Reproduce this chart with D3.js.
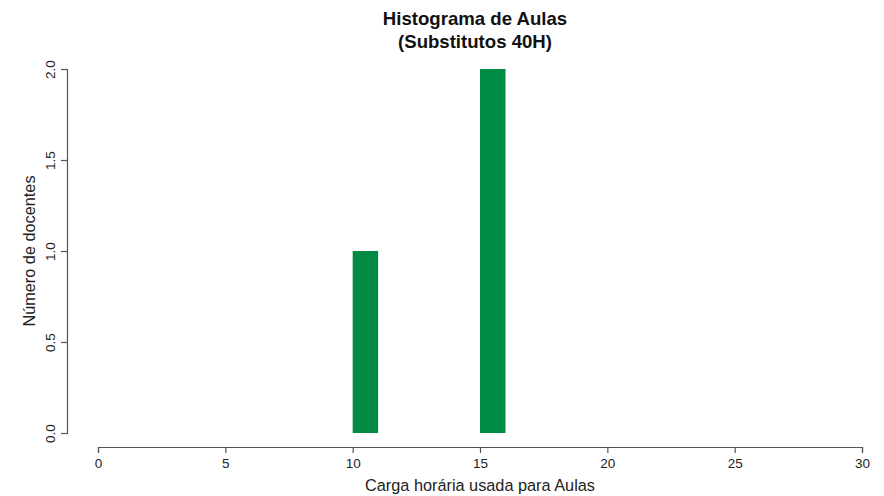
<!DOCTYPE html>
<html><head><meta charset="utf-8">
<script src="https://cdn.jsdelivr.net/npm/d3@7"></script>
<style>body{margin:0;background:#fff}svg{display:block}</style>
</head><body>
<script>
const binStarts = [10, 15];
const binWidth = 1;
const counts = [1, 2];
const xTicks = [0, 5, 10, 15, 20, 25, 30];
const yTicks = [0, 0.5, 1.0, 1.5, 2.0];
const titleLines = ["Histograma de Aulas", "(Substitutos 40H)"];
const xLabel = "Carga horária usada para Aulas";
const yLabel = "Número de docentes";

const W = 884, H = 496;
const svg = d3.select("body").append("svg").attr("width", W).attr("height", H);
const x = d3.scaleLinear().domain([0, 30]).range([98, 862]);
const y = d3.scaleLinear().domain([0, 2]).range([433, 69]);
const font = "Liberation Sans, Arial, sans-serif";
const axisCol = "#555";

svg.selectAll("rect.bar").data(binStarts).join("rect")
  .attr("class", "bar")
  .attr("x", d => x(d))
  .attr("width", (d) => x(d + binWidth) - x(d))
  .attr("y", (d, i) => y(counts[i]))
  .attr("height", (d, i) => y(0) - y(counts[i]))
  .attr("fill", "#008a43");

const gx = svg.append("g").attr("transform", "translate(0,447)")
  .call(d3.axisBottom(x).tickValues(xTicks).tickFormat(d3.format("d")).tickSizeOuter(0).tickSize(6).tickPadding(5));
const gy = svg.append("g").attr("transform", "translate(67,0)")
  .call(d3.axisLeft(y).tickValues(yTicks).tickFormat(d3.format(".1f")).tickSizeOuter(0).tickSize(6));
[gx, gy].forEach(g => {
  g.select(".domain").attr("stroke", axisCol).attr("stroke-width", 1.2);
  g.selectAll(".tick line").attr("stroke", axisCol).attr("stroke-width", 1.2);
  g.selectAll("text").attr("fill", "#222").style("font-family", font).style("font-size", "13.5px");
});
gy.selectAll(".tick text")
  .attr("transform", "rotate(-90)")
  .attr("x", 0).attr("y", -12)
  .attr("dy", "0")
  .attr("text-anchor", "middle");

svg.append("text").attr("x", x(15)).attr("y", 491).attr("text-anchor", "middle")
  .style("font-family", font).style("font-size", "16.3px").attr("fill", "#222").text(xLabel);
svg.append("text").attr("transform", `translate(35,${y(1)}) rotate(-90)`).attr("text-anchor", "middle")
  .style("font-family", font).style("font-size", "16.3px").attr("fill", "#222").text(yLabel);

svg.selectAll("text.title").data(titleLines).join("text").attr("class", "title")
  .attr("x", 475).attr("y", (d, i) => 25 + i * 23).attr("text-anchor", "middle")
  .style("font-family", font).style("font-size", "18.6px").style("font-weight", "bold")
  .attr("fill", "#111").text(d => d);
</script>
</body></html>
